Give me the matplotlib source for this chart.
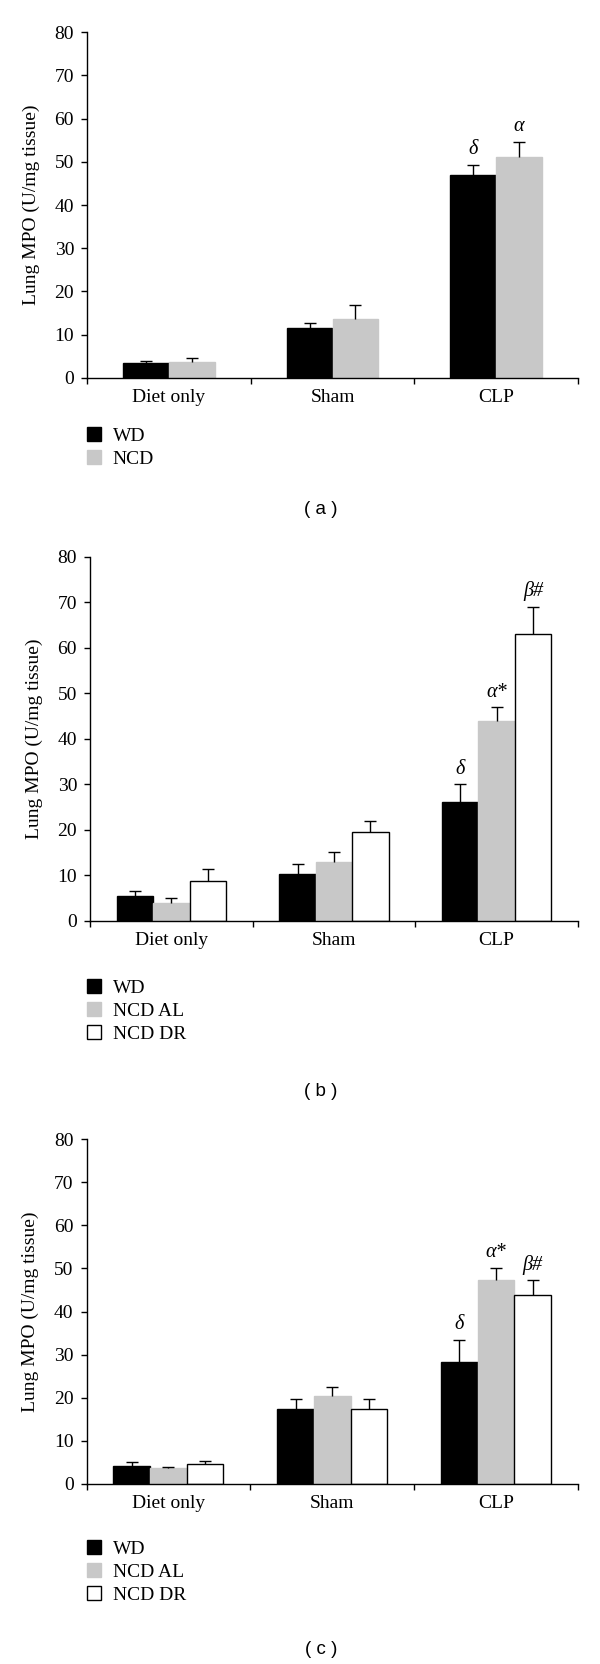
import matplotlib
matplotlib.use("Agg")
import matplotlib.pyplot as plt
from matplotlib.patches import Patch
import numpy as np

# ---------------- data ----------------
categories = ["Diet only", "Sham", "CLP"]
yticks = [0, 10, 20, 30, 40, 50, 60, 70, 80]
ylabel = "Lung MPO (U/mg tissue)"

# panel (a)
a_labels = ["WD", "NCD"]
a_wd = [3.5, 11.4, 46.9]
a_wd_err = [0.4, 1.3, 2.4]
a_ncd = [3.7, 13.7, 51.2]
a_ncd_err = [0.9, 3.1, 3.5]
a_wd_sig = ["", "", "δ"]
a_ncd_sig = ["", "", "α"]

# panel (b)
b_labels = ["WD", "NCD AL", "NCD DR"]
b_wd = [5.5, 10.2, 26.1]
b_wd_err = [1.0, 2.2, 3.9]
b_al = [3.8, 12.9, 43.9]
b_al_err = [1.2, 2.1, 3.0]
b_dr = [8.7, 19.4, 63.1]
b_dr_err = [2.6, 2.5, 5.9]
b_wd_sig = ["", "", "δ"]
b_al_sig = ["", "", "α*"]
b_dr_sig = ["", "", "β#"]

# panel (c)
c_labels = ["WD", "NCD AL", "NCD DR"]
c_wd = [4.2, 17.3, 28.3]
c_wd_err = [1.0, 2.3, 5.1]
c_al = [3.6, 20.4, 47.4]
c_al_err = [0.4, 2.2, 2.8]
c_dr = [4.6, 17.3, 43.9]
c_dr_err = [0.8, 2.5, 3.3]
c_wd_sig = ["", "", "δ"]
c_al_sig = ["", "", "α*"]
c_dr_sig = ["", "", "β#"]

panel_tags = ["( a )", "( b )", "( c )"]

# ---------------- style ----------------
SERIF = ["Liberation Serif", "DejaVu Serif"]
SANS = ["Liberation Sans", "DejaVu Sans"]
plt.rcParams["font.family"] = SERIF
FS = 14
GRAY = "#c8c8c8"

W, H = 600, 1664
fig = plt.figure(figsize=(W / 100, H / 100), dpi=100)


def px_rect(left, right, top, bottom):
    return [left / W, 1 - bottom / H, (right - left) / W, (bottom - top) / H]


def draw_panel(rect, series, errs, sigs, labels, fcolors, ecolors, width,
               legend_top, tag, tag_y):
    ax = fig.add_axes(rect)
    n = len(series)
    xc = np.arange(len(categories)) + 0.5
    offsets = (np.arange(n) - (n - 1) / 2) * width
    handles = []
    for vals, err, sig, lab, fc, ec, off in zip(series, errs, sigs, labels,
                                                 fcolors, ecolors, offsets):
        x = xc + off
        ax.bar(x, vals, width=width, color=fc, edgecolor=ec, linewidth=1.0,
               zorder=2)
        eb = ax.errorbar(x, vals, yerr=[np.zeros(len(vals)), err], fmt="none",
                         ecolor="black", elinewidth=1.0, capsize=4.3,
                         capthick=1.0, zorder=3)
        # keep only the upper caps (one-sided error bars)
        caps = eb[1]
        if len(caps) == 2:
            caps[0].set_visible(False)
        for xi, v, e, s in zip(x, vals, err, sig):
            if s:
                ax.annotate(s, xy=(xi, v + e), xytext=(0, 4),
                            textcoords="offset points", ha="center",
                            va="bottom", fontsize=FS + 0.5, fontstyle="italic",
                            family=SERIF)
        handles.append(Patch(facecolor=fc, edgecolor=ec, linewidth=1.0,
                             label=lab))

    ax.set_xlim(0, len(categories))
    ax.set_ylim(0, 80)
    ax.set_yticks(yticks)
    ax.tick_params(axis="y", direction="out", length=4.3, width=1.0,
                   labelsize=FS, pad=5)
    ax.set_xticks(np.arange(len(categories) + 1))
    ax.set_xticklabels([])
    ax.set_xticks(xc, minor=True)
    ax.set_xticklabels(categories, minor=True, fontsize=FS)
    ax.tick_params(axis="x", which="major", direction="out", length=4.3,
                   width=1.0)
    ax.tick_params(axis="x", which="minor", length=0, pad=8)
    for s in ["top", "right"]:
        ax.spines[s].set_visible(False)
    for s in ["left", "bottom"]:
        ax.spines[s].set_linewidth(1.0)
    ax.set_ylabel(ylabel, fontsize=FS)
    ax.yaxis.set_label_coords(-0.096, 0.5)

    ax.legend(handles=handles, loc="upper left",
              bbox_to_anchor=(86.5 / W, 1 - legend_top / H),
              bbox_transform=fig.transFigure, frameon=False, fontsize=FS,
              handlelength=0.72, handleheight=0.72, handletextpad=0.62,
              labelspacing=0.28, borderpad=0, borderaxespad=0)
    fig.text(321 / W, 1 - tag_y / H, tag, ha="center", va="center",
             fontsize=13.5, family=SANS)
    return ax


draw_panel(px_rect(87, 578, 32.3, 377.7),
           [a_wd, a_ncd], [a_wd_err, a_ncd_err], [a_wd_sig, a_ncd_sig],
           a_labels, ["black", GRAY], ["black", GRAY], 0.28,
           427, panel_tags[0], 510)

draw_panel(px_rect(90, 578, 556.8, 920.7),
           [b_wd, b_al, b_dr], [b_wd_err, b_al_err, b_dr_err],
           [b_wd_sig, b_al_sig, b_dr_sig],
           b_labels, ["black", GRAY, "white"], ["black", GRAY, "black"], 0.224,
           979, panel_tags[1], 1091.7)

draw_panel(px_rect(86.5, 578, 1139, 1484),
           [c_wd, c_al, c_dr], [c_wd_err, c_al_err, c_dr_err],
           [c_wd_sig, c_al_sig, c_dr_sig],
           c_labels, ["black", GRAY, "white"], ["black", GRAY, "black"], 0.224,
           1540, panel_tags[2], 1649)

fig.savefig("out.png", dpi=100)
